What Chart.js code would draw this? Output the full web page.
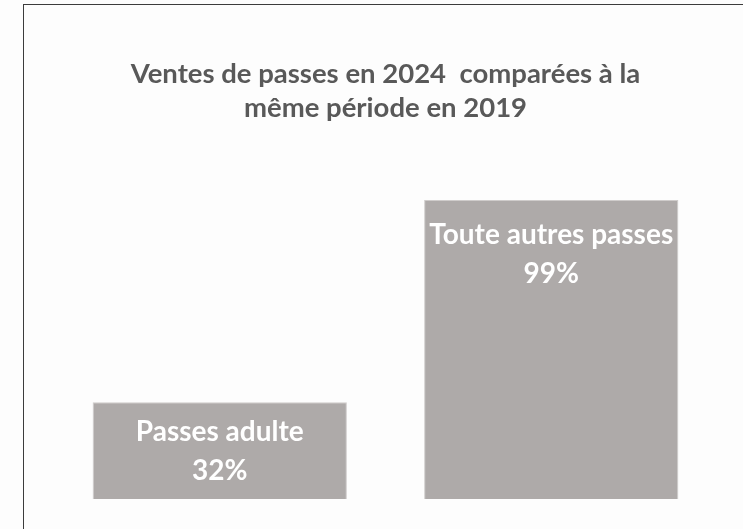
<!DOCTYPE html>
<html>
<head>
<meta charset="utf-8">
<script src="https://cdn.jsdelivr.net/npm/chart.js@4/dist/chart.umd.min.js"></script>
<style>
  html, body { margin: 0; padding: 0; background: #fdfdfd; overflow: hidden; width: 743px; height: 529px; }
  #frame { position: absolute; left: 23px; top: 4px; width: 736px; height: 542px; border: 1px solid #3c3c3c; box-sizing: border-box; background: #fdfdfd; }
  #c { position: absolute; left: 0; top: 0; }
</style>
</head>
<body>
<div id="frame"><canvas id="c" width="734" height="540"></canvas></div>
<script>
const categories = ["Passes adulte", "Toute autres passes"];
const values = [32, 99];
const valueLabels = ["32%", "99%"];
const titleLines = ["Ventes de passes en 2024  comparées à la", "même période en 2019"];

const barLabelPlugin = {
  id: 'barLabels',
  afterDatasetsDraw(chart) {
    const ctx = chart.ctx;
    const meta = chart.getDatasetMeta(0);
    const size = 28;
    meta.data.forEach((bar, i) => {
      const p = bar.getProps(['x', 'y', 'base', 'width'], true);
      const left = p.x - p.width / 2, top = p.y, h = p.base - p.y;
      const cy = Math.min(top + h / 2, top + 53);
      ctx.save();
      ctx.beginPath();
      ctx.rect(left, top, p.width, h);
      ctx.clip();
      ctx.fillStyle = '#ffffff';
      ctx.font = 'bold ' + size + 'px Lato';
      ctx.textAlign = 'center';
      ctx.textBaseline = 'alphabetic';
      ctx.fillText(categories[i], p.x, cy - 19.5 + 0.36 * size);
      ctx.fillText(valueLabels[i], p.x, cy + 19.5 + 0.36 * size);
      ctx.restore();
    });
  }
};

new Chart(document.getElementById('c'), {
  type: 'bar',
  data: {
    labels: categories,
    datasets: [{
      data: values,
      backgroundColor: '#aeaaa9',
      borderColor: '#cfcccb',
      borderWidth: 1,
      categoryPercentage: 1.0,
      barPercentage: 0.767
    }]
  },
  options: {
    responsive: false,
    animation: false,
    layout: { padding: { left: 30, right: 41, top: 0, bottom: 46 } },
    plugins: {
      legend: { display: false },
      tooltip: { enabled: false },
      title: {
        display: true,
        text: titleLines,
        color: '#595959',
        font: { family: 'Lato', size: 27.5, weight: 'bold', lineHeight: 34 / 27.5 },
        padding: { top: 52, bottom: 72 }
      }
    },
    scales: {
      x: { display: false },
      y: { display: false, min: 0, max: 100 }
    }
  },
  plugins: [barLabelPlugin]
});
</script>
</body>
</html>
